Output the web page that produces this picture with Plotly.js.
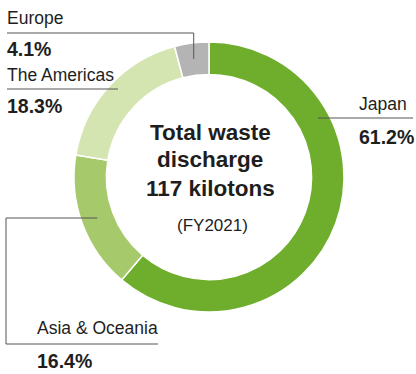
<!DOCTYPE html>
<html><head><meta charset="utf-8">
<script src="https://cdn.plot.ly/plotly-3.0.1.min.js"></script>
<style>html,body{margin:0;padding:0;background:#fff}#chart{width:416px;height:374px}</style>
</head><body><div id="chart"></div>
<script>
const regions = ["Japan", "Asia & Oceania", "The Americas", "Europe"];
const shares = [61.2, 16.4, 18.3, 4.1];
const colors = ["#6eae2c", "#a6c96b", "#d5e5b2", "#b4b4b4"];
const shareLabels = ["61.2%", "16.4%", "18.3%", "4.1%"];
const centerLines = ["Total waste", "discharge", "117 kilotons"];
const fiscalYear = "(FY2021)";

const W = 416, H = 374;
const cx = 209, cy = 177, R = 135;
const px = x => x / W, py = y => 1 - y / H;

// angle of slice midpoint (clockwise from 12 o'clock), computed from data
const total = shares.reduce((a, b) => a + b, 0);
let acc = 0;
const mid = shares.map(v => { const m = (acc + v / 2) / total * 2 * Math.PI; acc += v; return m; });
const rMid = 119;
const tip = i => [cx + rMid * Math.sin(mid[i]), cy - rMid * Math.cos(mid[i])];

const font = "Liberation Sans, Arial, sans-serif";
const txt = "#1e1e1e";
const lineCol = "#555";

const eu = tip(3), as = tip(1);
const shapes = [
  {type: "path", path: `M ${px(7)} ${py(33)} L ${px(eu[0])} ${py(33)} L ${px(eu[0])} ${py(eu[1])}`},
  {type: "line", x0: px(7), x1: px(118), y0: py(89), y1: py(89)},
  {type: "line", x0: px(318), x1: px(413), y0: py(118), y1: py(118)},
  {type: "path", path: `M ${px(as[0])} ${py(as[1])} L ${px(6)} ${py(as[1])} L ${px(6)} ${py(344)} L ${px(158)} ${py(344)}`}
].map(s => Object.assign({xref: "paper", yref: "paper", line: {color: lineCol, width: 1}}, s));

const ann = (text, x, y, xanchor, size, bold) => ({
  text: bold ? "<b>" + text + "</b>" : text, x: px(x), y: py(y), xref: "paper", yref: "paper",
  xanchor: xanchor, yanchor: "middle", showarrow: false,
  font: {family: font, size: size, color: txt}
});

const annotations = [
  ann(regions[3], 5, 18, "left", 17.5, false),
  ann(shareLabels[3], 5, 49, "left", 19.5, true),
  ann(regions[2], 5, 75, "left", 17.5, false),
  ann(shareLabels[2], 5, 106, "left", 19.5, true),
  ann(regions[0], 409, 104, "right", 17.5, false),
  ann(shareLabels[0], 416, 137, "right", 19.5, true),
  ann(regions[1], 35, 328, "left", 17.5, false),
  ann(shareLabels[1], 35, 361, "left", 19.5, true),
  ann(centerLines[0], 210, 132, "center", 22.5, true),
  ann(centerLines[1], 210, 160, "center", 22.5, true),
  ann(centerLines[2], 210, 188, "center", 22.5, true),
  ann(fiscalYear, 213, 225, "center", 17, false)
];

Plotly.newPlot("chart", [{
  type: "pie",
  labels: regions, values: shares, sort: false,
  direction: "clockwise", rotation: 0, hole: 0.76,
  marker: {colors: colors, line: {color: "#fff", width: 1.5}},
  textinfo: "none", hoverinfo: "label+percent", showlegend: false,
  domain: {x: [px(cx - R), px(cx + R)], y: [py(cy + R), py(cy - R)]}
}], {
  width: W, height: H, margin: {l: 0, r: 0, t: 0, b: 0},
  paper_bgcolor: "#fff", showlegend: false,
  shapes: shapes, annotations: annotations
}, {displayModeBar: false, staticPlot: true});
</script></body></html>
